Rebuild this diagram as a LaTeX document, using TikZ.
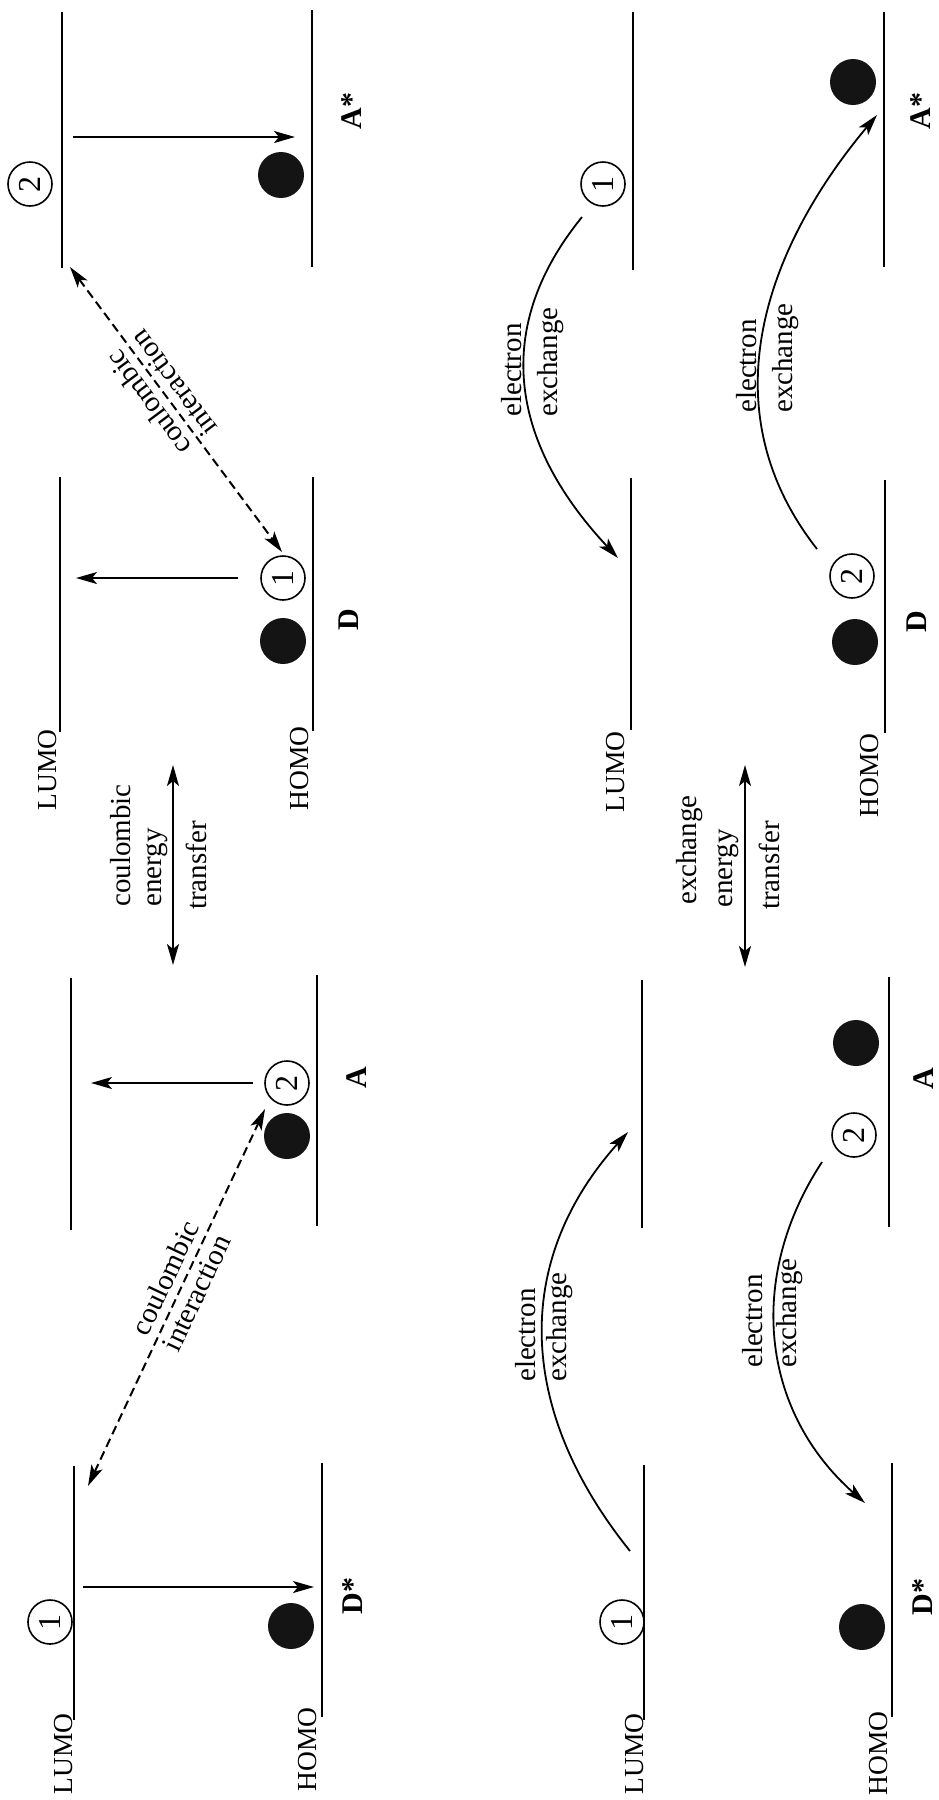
\documentclass[tikz,border=0pt]{standalone}
\usepackage{fontspec}
\setmainfont{Liberation Serif}
\usetikzlibrary{arrows.meta}

\begin{document}
\begin{tikzpicture}[x=1pt,y=-1pt,
  level/.style={line width=2pt},
  tip/.tip={Stealth[length=21pt,width=12pt,inset=5pt]},
  arr/.style={line width=1.8pt, -tip},
  darr/.style={line width=1.8pt, tip-tip},
  dasharr/.style={line width=2pt, tip-tip, dash pattern=on 9pt off 5pt},
  elec/.style={circle, fill=black!92, minimum size=46pt, inner sep=0pt},
  hole/.style={circle, draw, line width=1.6pt, minimum size=44pt, inner sep=0pt,
    rotate=90, font=\fontsize{32}{34}\selectfont},
  lbl/.style={font=\fontsize{29}{34}\selectfont, inner sep=0pt},
  txt/.style={lbl, rotate=90},
  orb/.style={font=\fontsize{27.5}{32}\selectfont, inner sep=0pt, rotate=90, anchor=base east},
  mol/.style={font=\fontsize{30}{34}\selectfont\bfseries, inner sep=0pt, rotate=90, anchor=base},
]
\useasboundingbox (0,0) rectangle (939,1800);

%% ---------------- coulombic (Foerster) mechanism ----------------
% A* : acceptor after transfer
\draw[level] (62,12) -- (62,268);
\draw[level] (312,10) -- (312,267);
\node[hole] (hA1) at (30,184) {2};
\node[elec] (eA1) at (281,175) {};
\coordinate (vA1s) at (73,137);
\coordinate (vA1e) at (295,137);
\draw[arr] (vA1s) -- (vA1e);
\node[mol] (mA1) at (361,111) {A*};

% D : donor after transfer
\draw[level] (60,477) -- (60,732);
\draw[level] (313,477) -- (313,731);
\node[hole] (hD1) at (283,578) {1};
\node[elec] (eD1) at (283,641) {};
\coordinate (vD1s) at (238,578);
\coordinate (vD1e) at (76,578);
\draw[arr] (vD1s) -- (vD1e);
\node[mol] (mD1) at (358,620) {D};
\node[orb] (lumoD1) at (56,729) {LUMO};
\node[orb] (homoD1) at (308,726) {HOMO};

% A : acceptor before transfer
\draw[level] (71,978) -- (71,1230);
\draw[level] (317,975) -- (317,1226);
\node[hole] (hA2) at (287,1083) {2};
\node[elec] (eA2) at (287,1136) {};
\coordinate (vA2s) at (253,1083);
\coordinate (vA2e) at (91,1083);
\draw[arr] (vA2s) -- (vA2e);
\node[mol] (mA2) at (366,1078) {A};

% D* : excited donor
\draw[level] (74,1466) -- (74,1720);
\draw[level] (322,1463) -- (322,1717);
\node[hole] (hD2) at (50,1622) {1};
\node[elec] (eD2) at (291,1626) {};
\coordinate (vD2s) at (83,1587);
\coordinate (vD2e) at (314,1587);
\draw[arr] (vD2s) -- (vD2e);
\node[mol] (mD2) at (362,1596) {D*};
\node[orb] (lumoD2) at (72,1713) {LUMO};
\node[orb] (homoD2) at (316,1707) {HOMO};

% coulombic interactions, one label line on each side of the arrow
\coordinate (ci1a) at (70,267);
\coordinate (ci1b) at (282,552);
\draw[dasharr] (ci1a) -- (ci1b);
\node[lbl, rotate=126.64, anchor=base] (ci1t) at (156,397) {coulombic};
\node[lbl, rotate=126.64, anchor=base] (ci1u) at (181,378) {interaction};
\coordinate (ci2a) at (88,1486);
\coordinate (ci2b) at (265,1109);
\draw[dasharr] (ci2a) -- (ci2b);
\node[lbl, rotate=64.85, anchor=base] (ci2t) at (174,1282) {coulombic};
\node[lbl, rotate=64.85, anchor=base] (ci2u) at (205,1297) {interaction};

% transfer arrow
\coordinate (cet1) at (173,765);
\coordinate (cet2) at (173,965);
\draw[darr] (cet1) -- (cet2);
\node[txt, anchor=base west] (cetA) at (130,907) {coulombic};
\node[txt, anchor=base west] (cetB) at (161,907) {energy};
\node[txt, anchor=base west] (cetC) at (206,910) {transfer};

%% ---------------- exchange (Dexter) mechanism ----------------
% A*
\draw[level] (633,12) -- (633,270);
\draw[level] (884,12) -- (884,267);
\node[hole] (hA3) at (603,184) {1};
\node[elec] (eA3) at (853,82) {};
\node[mol] (mA3) at (930,111) {A*};

% D
\draw[level] (631,478) -- (631,730);
\draw[level] (885,480) -- (885,733);
\node[hole] (hD3) at (852,576) {2};
\node[elec] (eD3) at (855,642) {};
\node[mol] (mD3) at (926,622) {D};
\node[orb] (lumoD3) at (624,731) {LUMO};
\node[orb] (homoD3) at (878,733) {HOMO};

% A
\draw[level] (642,980) -- (642,1228);
\draw[level] (889,977) -- (889,1227);
\node[elec] (eA4) at (856,1043) {};
\node[hole] (hA4) at (854,1135) {2};
\node[mol] (mA4) at (933,1079) {A};

% D*
\draw[level] (644,1465) -- (644,1720);
\draw[level] (892,1463) -- (892,1717);
\node[hole] (hD4) at (622,1622) {1};
\node[elec] (eD4) at (862,1627) {};
\node[mol] (mD4) at (932,1597) {D*};
\node[orb] (lumoD4) at (643,1713) {LUMO};
\node[orb] (homoD4) at (887,1711) {HOMO};

% electron exchange paths
\coordinate (x1s) at (582,217);
\coordinate (x1e) at (618,558);
\draw[arr] (x1s) .. controls (487,334) and (516,449) .. (x1e);
\node[txt, anchor=base west] at (521,417) {electron};
\node[txt, anchor=base west] at (557,417) {exchange};

\coordinate (x2s) at (817,549);
\coordinate (x2e) at (877,115);
\draw[arr] (x2s) .. controls (708,410) and (764,250) .. (x2e);
\node[txt, anchor=base west] at (756,413) {electron};
\node[txt, anchor=base west] at (792,413) {exchange};

\coordinate (x3s) at (630,1551);
\coordinate (x3e) at (628,1132);
\draw[arr] (x3s) .. controls (519,1413) and (510,1264) .. (x3e);
\node[txt, anchor=base west] at (535,1382) {electron};
\node[txt, anchor=base west] at (566,1382) {exchange};

\coordinate (x4s) at (822,1162);
\coordinate (x4e) at (865,1503);
\draw[arr] (x4s) .. controls (746,1278) and (761,1411) .. (x4e);
\node[txt, anchor=base west] at (762,1368) {electron};
\node[txt, anchor=base west] at (796,1368) {exchange};

% transfer arrow
\coordinate (xet1) at (745,765);
\coordinate (xet2) at (745,967);
\draw[darr] (xet1) -- (xet2);
\node[txt, anchor=base west] (xetA) at (696,905) {exchange};
\node[txt, anchor=base west] (xetB) at (732,908) {energy};
\node[txt, anchor=base west] (xetC) at (779,910) {transfer};
\end{tikzpicture}
\end{document}
